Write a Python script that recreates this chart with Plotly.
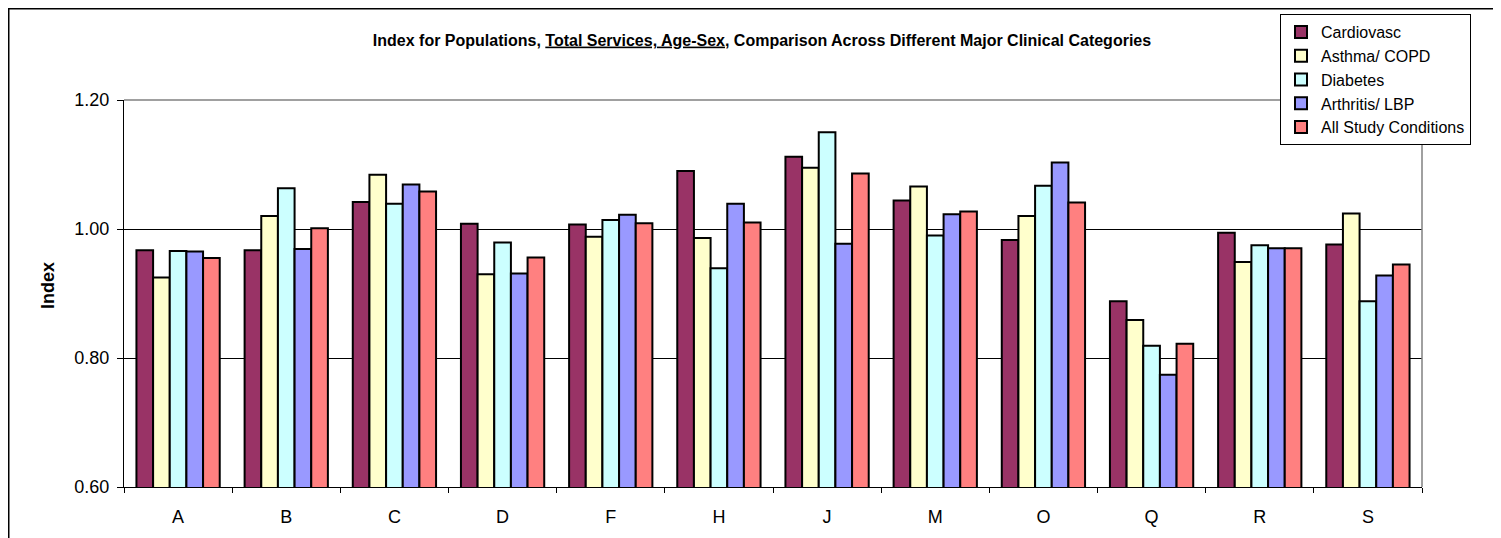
import plotly.graph_objects as go

categories = ["A", "B", "C", "D", "F", "H", "J", "M", "O", "Q", "R", "S"]
series_names = ["Cardiovasc", "Asthma/ COPD", "Diabetes", "Arthritis/ LBP", "All Study Conditions"]
cardiovasc = [0.967, 0.967, 1.042, 1.008, 1.007, 1.090, 1.112, 1.044, 0.983, 0.888, 0.994, 0.976]
asthma_copd = [0.925, 1.020, 1.084, 0.930, 0.988, 0.986, 1.095, 1.066, 1.020, 0.859, 0.949, 1.024]
diabetes = [0.966, 1.063, 1.039, 0.979, 1.014, 0.939, 1.150, 0.990, 1.067, 0.819, 0.975, 0.888]
arthritis_lbp = [0.965, 0.969, 1.069, 0.931, 1.022, 1.039, 0.977, 1.023, 1.103, 0.774, 0.970, 0.928]
all_conditions = [0.955, 1.001, 1.058, 0.956, 1.009, 1.010, 1.086, 1.027, 1.041, 0.822, 0.970, 0.945]
colors = ["#993366", "#FFFFCC", "#CCFFFF", "#9999FF", "#FF8080"]
y_ticks = [0.6, 0.8, 1.0, 1.2]

series_values = [cardiovasc, asthma_copd, diabetes, arthritis_lbp, all_conditions]

FONT = "Liberation Sans, Arial, sans-serif"

# page body has an 8px margin; work in figure coordinates = page coordinates - 8
OFF = 8
W, H = 1501 - OFF, 538 - OFF
L, R, T, B = 124 - OFF, 1422 - OFF, 100 - OFF, 487 - OFF

fig = go.Figure()
for i, (name, vals, col) in enumerate(zip(series_names, series_values, colors)):
    fig.add_trace(go.Bar(
        x=categories, y=vals, name=name, legendgroup=f"g{i}",
        marker=dict(color=col, line=dict(color="black", width=2)),
    ))

fig.update_layout(
    width=W, height=H,
    margin=dict(l=L, r=W - R, t=T, b=H - B, autoexpand=False),
    paper_bgcolor="white", plot_bgcolor="white",
    barmode="group", bargap=0.23, bargroupgap=0,
    font=dict(family=FONT, color="black"),
    title=dict(
        text="<b>Index for Populations, <u>Total Services, Age-Sex</u>, Comparison Across Different Major Clinical Categories</b>",
        font=dict(size=16, family=FONT, color="black"),
        x=(762 - OFF) / W, xref="container", xanchor="center",
        y=1 - (40 - OFF) / H, yref="container", yanchor="middle",
    ),
    legend=dict(
        x=(1280 - OFF) / W, xref="container", xanchor="left",
        y=1 - (14 - OFF) / H, yref="container", yanchor="top",
        bgcolor="white", bordercolor="black", borderwidth=1,
        font=dict(size=16, family=FONT, color="black"),
        tracegroupgap=1.5, itemwidth=30, traceorder="normal",
    ),
    xaxis=dict(
        type="category", showgrid=False, showline=True, linecolor="black", linewidth=1,
        ticks="outside", tickson="boundaries", ticklen=5, tickcolor="black",
        ticklabelstandoff=13,
        tickfont=dict(size=18, family=FONT, color="black"), zeroline=False,
    ),
    yaxis=dict(
        range=[0.6, 1.2], tickvals=y_ticks, tickformat=".2f",
        showgrid=True, gridcolor="black", gridwidth=1,
        showline=True, linecolor="black", linewidth=1,
        ticks="outside", ticklen=6, tickcolor="black",
        ticklabelstandoff=4,
        tickfont=dict(size=18, family=FONT, color="black"), zeroline=False,
    ),
)

# plot area border (gray) on top and right
fig.add_shape(type="line", xref="x domain", yref="y domain", x0=0, x1=1, y0=1, y1=1,
              line=dict(color="#808080", width=1.5))
fig.add_shape(type="line", xref="x domain", yref="y domain", x0=1, x1=1, y0=0, y1=1,
              line=dict(color="#808080", width=1.5))

# outer chart border (extends past the right and bottom edges)
pw, ph = R - L, B - T
fig.add_shape(type="rect", xref="paper", yref="paper",
              x0=(0.5 - L) / pw, x1=(1520 - L) / pw, y0=(B - 560) / ph, y1=(B - 0.5) / ph,
              line=dict(color="black", width=2), fillcolor="rgba(0,0,0,0)", layer="below")

fig.add_annotation(text="<b>Index</b>", textangle=-90, xref="paper", yref="paper",
                   x=(48 - OFF - L) / pw, y=(B - (286 - OFF)) / ph, showarrow=False,
                   xanchor="center", yanchor="middle",
                   font=dict(size=18, family=FONT, color="black"))

fig.write_html("out.html")
